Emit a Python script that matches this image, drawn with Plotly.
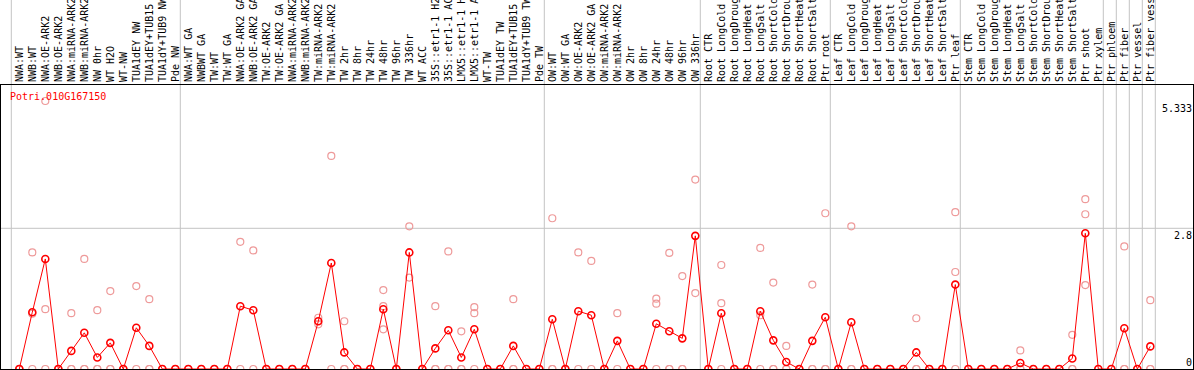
import plotly.graph_objects as go

W, H = 1194, 370
ML, MR, MT, MB = 1, 1, 85, 1

gene = "Potri.010G167150"

categories = [
    "NWA:WT", "NWB:WT", "NWA:OE-ARK2", "NWB:OE-ARK2", "NWA:miRNA-ARK2", "NWB:miRNA-ARK2",
    "NW 0hr", "WT H2O", "WT-NW", "TUA1dEY NW", "TUA1dEY+TUB15 NW", "TUA1dY+TUB9 NW", "Pde NW",
    "NWA:WT GA", "NWBWT GA", "TW:WT", "TW:WT GA", "NWA:OE-ARK2 GA", "NWB:OE-ARK2 GA",
    "TW:OE-ARK2", "TW:OE-ARK2 GA", "NWA:miRNA-ARK2", "NWB:miRNA-ARK2", "TW:miRNA-ARK2",
    "TW:miRNA-ARK2", "TW 2hr", "TW 8hr", "TW 24hr", "TW 48hr", "TW 96hr", "TW 336hr", "WT ACC",
    "35S::etr1-1 H2O", "35S::etr1-1 ACC", "LMX5::etr1-1 H2O", "LMX5::etr1-1 ACC", "WT-TW",
    "TUA1dEY TW", "TUA1dEY+TUB15 TW", "TUA1dY+TUB9 TW", "Pde TW",
    "OW:WT", "OW:WT GA", "OW:OE-ARK2", "OW:OE-ARK2 GA", "OW:miRNA-ARK2", "OW:miRNA-ARK2",
    "OW 2hr", "OW 8hr", "OW 24hr", "OW 48hr", "OW 96hr", "OW 336hr",
    "Root CTR", "Root LongCold", "Root LongDrought", "Root LongHeat", "Root LongSalt",
    "Root ShortCold", "Root ShortDrought", "Root ShortHeat", "Root ShortSalt", "Ptr root",
    "Leaf CTR", "Leaf LongCold", "Leaf LongDrought", "Leaf LongHeat", "Leaf LongSalt",
    "Leaf ShortCold", "Leaf ShortDrought", "Leaf ShortHeat", "Leaf ShortSalt", "Ptr leaf",
    "Stem CTR", "Stem LongCold", "Stem LongDrought", "Stem LongHeat", "Stem LongSalt",
    "Stem ShortCold", "Stem ShortDrought", "Stem ShortHeat", "Stem ShortSalt", "Ptr shoot",
    "Ptr xylem", "Ptr phloem", "Ptr fiber", "Ptr vessel", "Ptr fiber vessel",
]

mean_values = [
    0, 1.13, 2.19, 0, 0.36, 0.72, 0.23, 0.52, 0, 0.82, 0.46, 0, 0,
    0, 0, 0, 0, 1.25, 1.17, 0, 0, 0, 0, 0.95, 2.11, 0.33, 0, 0, 1.19, 0, 2.32, 0,
    0.41, 0.77, 0.23, 0.79, 0, 0, 0.46, 0, 0,
    0.99, 0, 1.15, 1.07, 0, 0.56, 0, 0, 0.90, 0.75, 0.61, 2.65,
    0, 1.11, 0, 0, 1.15, 0.57, 0.14, 0, 0.56, 1.03,
    0, 0.93, 0, 0, 0, 0, 0.33, 0, 0, 1.68,
    0, 0, 0, 0, 0.12, 0, 0, 0, 0.21, 2.70,
    0, 0, 0.81, 0, 0.45,
]

replicate_values = [
    [0, 0, 0], [2.32, 1.10, 0], [5.333, 1.19, 0], [0, 0, 0], [1.11, 0, 0], [2.19, 0, 0],
    [1.17, 0, 0], [1.55, 0, 0], [0, 0], [1.65, 0], [1.39, 0, 0], [0, 0], [0, 0],
    [0, 0], [0, 0], [0, 0], [0, 0], [2.53, 0], [2.36, 0], [0, 0], [0, 0], [0, 0], [0, 0],
    [1.02, 0.89], [4.24, 0], [0.95, 0, 0], [0, 0], [0, 0], [1.57, 1.25, 0.79], [0, 0],
    [2.84, 1.82], [0, 0], [1.25, 0, 0], [2.34, 0, 0], [0.75, 0, 0], [1.23, 1.11, 0], [0, 0],
    [0, 0], [1.39, 0, 0], [0, 0], [0, 0],
    [3.00, 0, 0], [0, 0], [2.32, 0], [2.15, 0], [0, 0], [1.11, 0], [0, 0], [0, 0],
    [1.40, 1.30, 0], [2.31, 0, 0], [1.85, 0, 0], [3.77, 1.51],
    [0, 0], [2.07, 1.31, 0], [0, 0], [0, 0], [2.41, 1.07, 0], [1.72, 0, 0], [0.46, 0, 0],
    [0, 0], [1.68, 0, 0], [3.10, 0, 0],
    [0, 0], [2.84, 0, 0], [0, 0], [0, 0], [0, 0], [0, 0], [1.01, 0, 0], [0, 0], [0, 0],
    [3.12, 1.93, 0],
    [0, 0], [0, 0], [0, 0], [0, 0], [0.37, 0, 0], [0, 0], [0, 0], [0, 0], [0.68, 0, 0],
    [3.38, 3.08, 1.67],
    [0], [0], [2.44, 0, 0], [0], [1.37, 0, 0],
]

group_starts = [1, 14, 42, 54, 64, 74, 85, 86, 87, 88, 89]
y_ticks = [5.333, 2.8, 0]
y_tick_text = ["5.333", "2.8", "0"]

FONT = "DejaVu Sans Mono"
RED = "#ff0000"
PINK = "#ee9a9a"
GRID = "#c4c4c4"

x_idx = list(range(1, len(categories) + 1))
rep_x, rep_y = [], []
for i, reps in zip(x_idx, replicate_values):
    for v in reps:
        rep_x.append(i)
        rep_y.append(v)

fig = go.Figure()
fig.add_trace(go.Scatter(
    x=rep_x, y=rep_y, mode="markers",
    marker=dict(symbol="circle-open", size=7, color=PINK, line=dict(width=1.2, color=PINK)),
    hoverinfo="skip", showlegend=False,
))
fig.add_trace(go.Scatter(
    x=x_idx, y=mean_values, mode="lines+markers",
    line=dict(color=RED, width=1),
    marker=dict(symbol="circle-open", size=7, color=RED, line=dict(width=1.6, color=RED)),
    showlegend=False,
))

plot_h = H - MT - MB
shapes = []
for g in group_starts:
    shapes.append(dict(type="line", xref="x", yref="paper", x0=g - 0.615, x1=g - 0.615,
                       y0=0, y1=(H - MB) / plot_h, line=dict(color=GRID, width=1), layer="below"))
shapes.append(dict(type="line", xref="paper", yref="y", x0=0, x1=1, y0=y_ticks[1], y1=y_ticks[1],
                   line=dict(color=GRID, width=1), layer="below"))

annotations = [dict(text=gene, xref="paper", yref="paper", x=0.006, y=0.958,
                    xanchor="left", yanchor="middle", showarrow=False,
                    font=dict(family=FONT, size=10, color=RED))]
for v, t in zip(y_ticks, y_tick_text):
    annotations.append(dict(text=t, xref="paper", yref="y", x=1.0, y=v, xanchor="right",
                            yanchor="bottom" if v == 0 else "top", yshift=0 if v == 0 else -1,
                            showarrow=False, borderpad=0,
                            font=dict(family=FONT, size=10, color="black")))

# 13 px per category, category 1 at x=19.3 px
px_per = 13.0
x0_px = 6.3
x_range = [(ML - x0_px) / px_per, (W - MR - x0_px) / px_per]
y_range = [0, plot_h / 50.25]

fig.update_layout(
    width=W, height=H,
    margin=dict(l=ML, r=MR, t=MT, b=MB, pad=0),
    paper_bgcolor="white", plot_bgcolor="white",
    shapes=shapes, annotations=annotations,
    xaxis=dict(range=x_range, side="top", tickmode="array", tickvals=x_idx, ticktext=categories,
               tickangle=-90, ticks="", showgrid=False, zeroline=False, showline=True,
               linecolor="black", linewidth=1, mirror=True, automargin=False,
               ticklabeloverflow="allow", tickfont=dict(family=FONT, size=10, color="black")),
    yaxis=dict(range=y_range, showticklabels=False, ticks="", showgrid=False, zeroline=False,
               showline=True, linecolor="black", linewidth=1, mirror=True, automargin=False),
)

fig.write_html("out.html", config={"displayModeBar": False},
               post_script="document.body.style.margin='0';document.body.style.overflow='hidden';")
